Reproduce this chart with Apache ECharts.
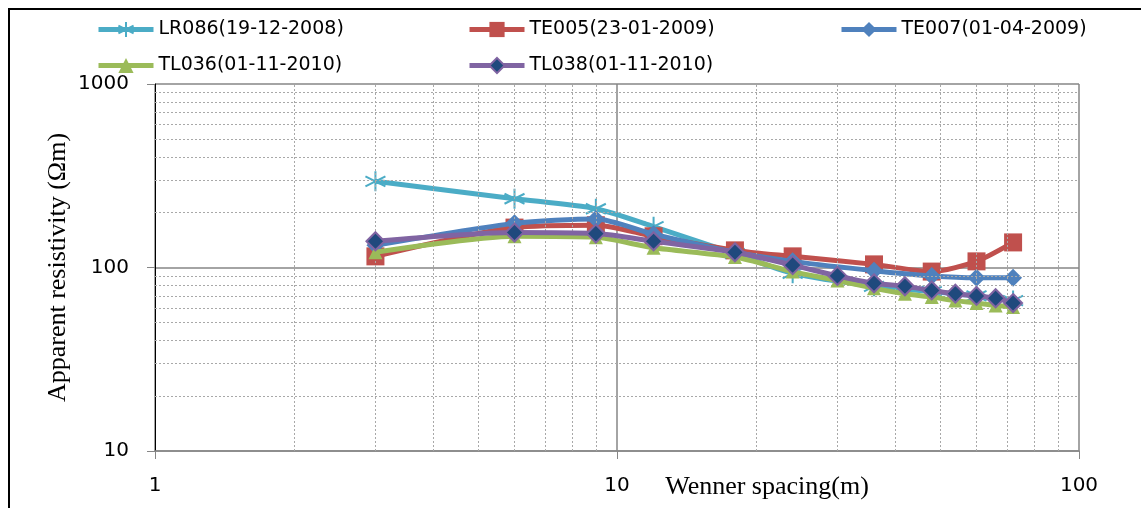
<!DOCTYPE html>
<html>
<head>
<meta charset="utf-8">
<script src="https://cdn.jsdelivr.net/npm/echarts@6/dist/echarts.min.js"></script>
<style>
  html, body { margin: 0; padding: 0; background: #fff; }
  #chart { width: 1141px; height: 508px; }
</style>
</head>
<body>
<div id="chart"></div>
<script>
// Wenner electrode spacings (m)
const spacingShort = [3, 6, 9, 12, 18, 24, 36, 48, 60, 72];
const spacingFull = [3, 6, 9, 12, 18, 24, 30, 36, 42, 48, 54, 60, 66, 72];

// Apparent resistivity (Ohm·m) for each survey
const lr086 = [295, 237, 209, 167, 119, 93, 79, 74, 70, 66];
const te005 = [115, 165, 170, 148, 124, 115, 104, 95, 108, 137];
const te007 = [132, 174, 184, 152, 121, 108, 96, 90, 88, 88];
const tl036 = [121, 148, 146, 128, 114, 95, 85, 77, 72, 69, 66, 64, 62, 61];
const tl038 = [139, 155, 153, 139, 121, 103, 90, 82, 79, 75, 72, 70, 68, 64];

const seriesNames = ['LR086(19-12-2008)', 'TE005(23-01-2009)', 'TE007(01-04-2009)',
                     'TL036(01-11-2010)', 'TL038(01-11-2010)'];

// Minor grid values on the logarithmic axes
const xMinor = [2, 3, 4, 5, 6, 7, 8, 9, 20, 30, 40, 50, 60, 70, 80, 90];
const yMinor = [20, 30, 40, 50, 60, 70, 80, 90, 200, 300, 400, 500, 600, 700, 800, 900];

const pairs = (xs, ys) => xs.map((x, i) => [x, ys[i]]);

const asterisk = 'path://M10,0 L10,20 M1.3,5 L18.7,15 M1.3,15 L18.7,5';

const lineFont = 'DejaVu Sans';
const serif = 'Liberation Serif';

function legendAt(name, left, top) {
  return {
    data: [name], left: left, top: top, padding: 0,
    itemWidth: 55, itemHeight: 19, itemGap: 0,
    lineStyle: { width: 5 },
    textStyle: { fontFamily: lineFont, fontSize: 19, color: '#000' }
  };
}

function dataSeries(name, xs, ys, color, symbol, size, itemStyle, z) {
  return {
    name: name, type: 'line', data: pairs(xs, ys),
    smooth: 0.25, z: z,
    lineStyle: { color: color, width: 5 },
    symbol: symbol, symbolSize: size,
    itemStyle: itemStyle,
    emphasis: { disabled: true }
  };
}

const chart = echarts.init(document.getElementById('chart'), null, { renderer: 'canvas' });

chart.setOption({
  animation: false,
  backgroundColor: '#fff',
  legend: [
    legendAt(seriesNames[0], 96, 20),
    legendAt(seriesNames[1], 467, 20),
    legendAt(seriesNames[2], 839, 20),
    legendAt(seriesNames[3], 96, 56),
    legendAt(seriesNames[4], 467, 56)
  ],
  graphic: [{
    type: 'rect', silent: true, z: 100,
    shape: { x: 9, y: 9, width: 1200, height: 600 },
    style: { fill: 'none', stroke: '#000', lineWidth: 2 }
  }],
  grid: { left: 155, right: 62, top: 84, bottom: 57, containLabel: false, outerBoundsMode: 'none' },
  xAxis: {
    type: 'log', logBase: 10, min: 1, max: 100,
    name: 'Wenner spacing(m)', nameLocation: 'middle', nameGap: 23, nameMoveOverlap: false,
    nameTextStyle: { fontFamily: serif, fontSize: 26, color: '#000', padding: [0, 0, 0, 300] },
    axisLine: { lineStyle: { color: '#868686', width: 1.5 } },
    axisTick: { show: true, length: 8, lineStyle: { color: '#868686' } },
    axisLabel: { fontFamily: lineFont, fontSize: 20, color: '#000', margin: 25, formatter: v => String(v) },
    splitLine: { show: true, lineStyle: { color: '#868686', width: 1.5 } },
    minorTick: { show: false }, minorSplitLine: { show: false }
  },
  yAxis: {
    type: 'log', logBase: 10, min: 10, max: 1000,
    name: 'Apparent resistivity (Ωm)', nameLocation: 'middle', nameGap: 84, nameRotate: 90,
    nameMoveOverlap: false,
    nameTextStyle: { fontFamily: serif, fontSize: 26, color: '#000' },
    axisLine: { show: true, lineStyle: { color: '#000', width: 1 } },
    axisTick: { show: true, length: 8, lineStyle: { color: '#868686' } },
    axisLabel: { fontFamily: lineFont, fontSize: 20, color: '#000', margin: 26, formatter: v => String(v) },
    splitLine: { show: true, lineStyle: { color: '#868686', width: 1.5 } },
    minorTick: { show: false }, minorSplitLine: { show: false }
  },
  series: [
    {
      name: 'minor-grid', type: 'line', data: [], z: 1, silent: true,
      markLine: {
        silent: true, animation: false, symbol: ['none', 'none'],
        label: { show: false },
        lineStyle: { color: '#a8a8a8', width: 1, type: [2, 2] },
        emphasis: { disabled: true },
        data: xMinor.map(v => ({ xAxis: v })).concat(yMinor.map(v => ({ yAxis: v })))
      }
    },
    dataSeries(seriesNames[0], spacingShort, lr086, '#4BACC6', asterisk, 20,
      { color: 'rgba(0,0,0,0)', borderColor: '#4BACC6', borderWidth: 2 }, 2),
    dataSeries(seriesNames[1], spacingShort, te005, '#C0504D', 'rect', 18,
      { color: '#C0504D' }, 3),
    dataSeries(seriesNames[2], spacingShort, te007, '#4F81BD', 'diamond', 18,
      { color: '#4F81BD' }, 4),
    dataSeries(seriesNames[3], spacingFull, tl036, '#9BBB59', 'triangle', 14,
      { color: '#9BBB59' }, 5),
    dataSeries(seriesNames[4], spacingFull, tl038, '#8064A2', 'diamond', 18,
      { color: '#1F497D', borderColor: '#8064A2', borderWidth: 2 }, 6)
  ]
});
</script>
</body>
</html>
